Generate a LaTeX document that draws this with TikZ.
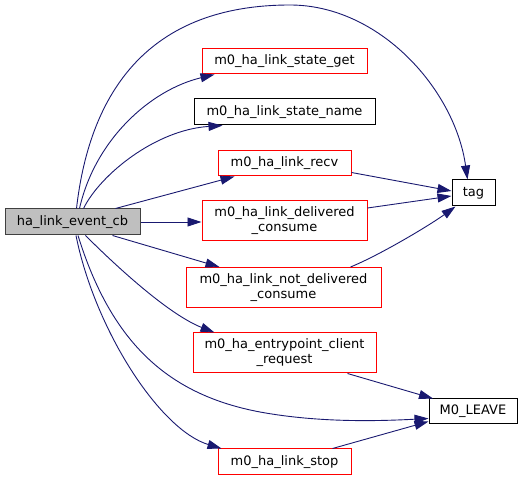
\documentclass[tikz,border=0pt]{standalone}
\usepackage{fontspec}
\setmainfont{DejaVu Sans}
\usetikzlibrary{arrows.meta}
\definecolor{edgeblue}{HTML}{191970}
\definecolor{cbgray}{HTML}{BFBFBF}

\begin{document}
\begin{tikzpicture}[
    x=1pt, y=-1pt,
    font=\fontsize{13}{15}\selectfont,
    fn/.style={draw, line width=1pt, align=center, inner sep=0pt, minimum height=25pt},
    trunc/.style={fn, draw=red},
    plain/.style={fn, draw=black},
    arrow/.style={-{Triangle[length=14pt,width=9pt]}, draw=edgeblue, line width=0.9pt}
]
\useasboundingbox (0,0) rectangle (523,481);

\node[fn, fill=cbgray, draw=black!75, minimum width=135pt, minimum height=26pt] (evcb) at (72.5,222)
{ha\_link\_event\_cb};

\node[trunc, minimum width=165pt] (stateget) at (284.5,61.5)
{m0\_ha\_link\_state\_get};

\node[plain, minimum width=181pt, minimum height=26pt] (statename) at (284.5,112)
{m0\_ha\_link\_state\_name};

\node[trunc, minimum width=133pt] (recv) at (284.5,163.5)
{m0\_ha\_link\_recv};

\node[trunc, minimum width=165pt, minimum height=40pt] (delivered) at (284.5,221)
{m0\_ha\_link\_delivered\\\_consume};

\node[trunc, minimum width=195pt, minimum height=40pt] (notdelivered) at (283.5,287.5)
{m0\_ha\_link\_not\_delivered\\\_consume};

\node[trunc, minimum width=183pt, minimum height=40pt] (entryreq) at (284.5,353)
{m0\_ha\_entrypoint\_client\\\_request};

\node[trunc, minimum width=133pt, minimum height=26pt] (linkstop) at (284.5,462)
{m0\_ha\_link\_stop};

\node[plain, minimum width=43pt, minimum height=26pt] (tag) at (473.5,193)
{tag};

\node[plain, minimum width=88pt] (leave) at (473,411.5)
{M0\_LEAVE};

\draw[arrow] ([xshift=4pt]evcb.north) .. controls (90,90) and (150,5) .. (290,5)
    .. controls (380,5) and (455,90) .. ([xshift=-6pt]tag.north);
\draw[arrow] ([xshift=7pt]evcb.north) .. controls (95,140) and (150,90) .. ([xshift=-70pt]stateget.south);
\draw[arrow] ([xshift=11pt]evcb.north) .. controls (100,175) and (155,130) .. ([xshift=-62pt]statename.south);
\draw[arrow] ([xshift=43pt]evcb.north) -- ([xshift=-50pt]recv.south);
\draw[arrow] (evcb.east) -- (evcb.east -| delivered.west);
\draw[arrow] ([xshift=40pt]evcb.south) -- ([xshift=-64pt]notdelivered.north);
\draw[arrow] ([xshift=13pt]evcb.south) .. controls (120,270) and (170,315) .. ([xshift=-70pt]entryreq.north);
\draw[arrow] ([xshift=5.5pt]evcb.south) .. controls (112,345) and (170,395) .. (260,412)
    .. controls (320,423) and (380,421) .. ([yshift=-7pt]leave.west);
\draw[arrow] ([xshift=3.5pt]evcb.south) .. controls (95,330) and (160,430) .. ([xshift=-63pt]linkstop.north);

\draw[arrow] ([yshift=-9pt]recv.east) -- ([yshift=2pt]tag.west);
\draw[arrow] ([yshift=13pt]delivered.east) -- ([yshift=-3pt]tag.west);
\draw[arrow] ([xshift=67pt]notdelivered.north) .. controls (380,255) and (430,225) .. ([xshift=-18pt]tag.south);

\draw[arrow] ([xshift=63pt]entryreq.south) -- ([xshift=-40pt]leave.north);
\draw[arrow] ([xshift=48pt]linkstop.north) -- ([yshift=-10pt]leave.west);

\end{tikzpicture}
\end{document}
